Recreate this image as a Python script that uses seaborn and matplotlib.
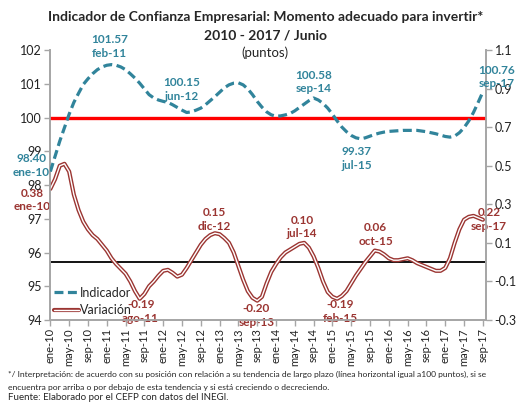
import numpy as np
import pandas as pd
import matplotlib
matplotlib.use("Agg")
import matplotlib.pyplot as plt
from matplotlib.lines import Line2D
import seaborn as sns

sns.set_theme(style="white")
plt.rcParams['font.family'] = ['Lato', 'DejaVu Sans']

# monthly data, ene-2010 .. sep-2017
meses = ["ene", "feb", "mar", "abr", "may", "jun", "jul", "ago", "sep", "oct", "nov", "dic"]
anios = list(range(10, 18))

indicador = [
    98.40, 98.85, 99.30, 99.70, 100.10, 100.45, 100.72, 100.98, 101.15, 101.30, 101.42, 101.50,
    101.55, 101.57, 101.55, 101.50, 101.42, 101.30, 101.17, 101.02, 100.85, 100.68, 100.58, 100.52,
    100.48, 100.45, 100.38, 100.30, 100.22, 100.15, 100.17, 100.22, 100.28, 100.38, 100.50, 100.62,
    100.75, 100.88, 100.97, 101.02, 101.03, 100.97, 100.85, 100.68, 100.48, 100.31, 100.17, 100.08,
    100.04, 100.05, 100.08, 100.12, 100.20, 100.30, 100.40, 100.50, 100.58, 100.52, 100.42, 100.28,
    100.10, 99.90, 99.72, 99.58, 99.47, 99.40, 99.37, 99.40, 99.45, 99.50, 99.54, 99.57,
    99.59, 99.60, 99.61, 99.62, 99.62, 99.62, 99.62, 99.60, 99.58, 99.55, 99.52, 99.48,
    99.44, 99.42, 99.45, 99.55, 99.70, 99.90, 100.15, 100.45, 100.76,
]

variacion = [
    0.38, 0.43, 0.50, 0.51, 0.47, 0.35, 0.27, 0.21, 0.17, 0.14, 0.12, 0.09,
    0.06, 0.02, -0.01, -0.035, -0.06, -0.10, -0.15, -0.19, -0.165, -0.125, -0.10, -0.07,
    -0.045, -0.04, -0.055, -0.075, -0.065, -0.03, 0.01, 0.05, 0.09, 0.12, 0.14, 0.15,
    0.145, 0.125, 0.10, 0.05, -0.02, -0.09, -0.15, -0.185, -0.20, -0.18, -0.11, -0.05,
    -0.01, 0.025, 0.05, 0.065, 0.08, 0.095, 0.10, 0.075, 0.03, -0.03, -0.10, -0.155,
    -0.18, -0.19, -0.175, -0.15, -0.11, -0.07, -0.035, 0.0, 0.03, 0.06, 0.055, 0.04,
    0.02, 0.01, 0.01, 0.015, 0.02, 0.01, -0.005, -0.015, -0.025, -0.035, -0.045, -0.045,
    -0.03, 0.02, 0.10, 0.17, 0.22, 0.235, 0.24, 0.23, 0.22,
]

fechas = [f"{m}-{a}" for a in anios for m in meses][:len(indicador)]
df = pd.DataFrame({"t": np.arange(len(fechas)), "fecha": fechas,
                   "indicador": indicador, "variacion": variacion})

# labelled points: (date, text offset in pixels)
etiq_ind = [("ene-10", (-19, 6)), ("feb-11", (-2, 18)), ("jun-12", (-5, 23)),
            ("sep-14", (0, 16)), ("jul-15", (-4, -20)), ("sep-17", (14, 15))]
etiq_var = [("ene-10", (-18, -11)), ("ago-11", (1, -13)), ("dic-12", (-1, 14)),
            ("sep-13", (-1, -15)), ("jul-14", (-2, 16)), ("feb-15", (3, -13)),
            ("oct-15", (1, 16)), ("sep-17", (6, 0))]

teal = "#31849B"
rojo = "#9B3532"

fig = plt.figure(figsize=(5.25, 4.04), dpi=100)
ax = fig.add_axes([0.095, 0.208, 0.831, 0.668])
ax2 = ax.twinx()

ax.axhline(100, color="#FF0000", lw=2.4, zorder=1)
sns.lineplot(data=df, x="t", y="indicador", ax=ax, color=teal, lw=2.3,
             dashes=False, zorder=3)
ax.lines[-1].set_dashes((2.8, 1.4))

ax2.axhline(0, color="black", lw=1.3, zorder=1)
sns.lineplot(data=df, x="t", y="variacion", ax=ax2, color=rojo, lw=3.0, zorder=3)
sns.lineplot(data=df, x="t", y="variacion", ax=ax2, color="white", lw=1.0, zorder=4)

ax.set_zorder(ax2.get_zorder() + 1)
ax.patch.set_visible(False)

ax.set_xlim(-0.1, 92.7)
ax.set_ylim(94, 102)
ax.set_yticks(range(94, 103))
ax2.set_ylim(-0.3, 1.1)
ax2.set_yticks(np.round(np.arange(-0.3, 1.11, 0.2), 1))
ax2.set_yticklabels([f"{v:.1f}" for v in np.round(np.arange(-0.3, 1.11, 0.2), 1)])
ax.set_xticks(df["t"][::4])
ax.set_xticklabels(df["fecha"][::4], rotation=90)
ax.set_xlabel("")
ax.set_ylabel("")
ax2.set_ylabel("")

for a in (ax, ax2):
    for s in a.spines.values():
        s.set_color("#A6A6A6")
    a.spines["top"].set_visible(False)
    a.tick_params(axis="both", which="major", length=4, width=1, color="#A6A6A6",
                  labelsize=9, pad=2, labelcolor="#222222")
ax.tick_params(axis="x", labelsize=8, length=4, pad=2, direction="out", bottom=True)
ax.tick_params(axis="y", left=True)
ax2.tick_params(axis="y", right=True)

idx = dict(zip(fechas, range(len(fechas))))
for f, off in etiq_ind:
    i = idx[f]
    ax.annotate(f"{indicador[i]:.2f}\n{f}", xy=(i, indicador[i]), xytext=off,
                textcoords="offset pixels", ha="center", va="center", color=teal,
                fontsize=8.5, fontweight="bold", linespacing=1.3, zorder=6)
for f, off in etiq_var:
    i = idx[f]
    ax2.annotate(f"{variacion[i]:.2f}\n{f}", xy=(i, variacion[i]), xytext=off,
                 textcoords="offset pixels", ha="center", va="center", color=rojo,
                 fontsize=8.5, fontweight="bold", linespacing=1.3, zorder=6)

h_ind = Line2D([], [], color=teal, lw=2.3, dashes=(2.8, 1.4))
h_var = (Line2D([], [], color=rojo, lw=3.0), Line2D([], [], color="white", lw=1.0))
ax.legend([h_ind, h_var], ["Indicador", "Variación"], loc="lower left",
          bbox_to_anchor=(0.0, 0.0), frameon=False, fontsize=9, handlelength=2.0,
          handletextpad=0.1, labelspacing=0.45, borderpad=0.2, borderaxespad=0.1)

fig.text(0.505, 0.958, "Indicador de Confianza Empresarial: Momento adecuado para invertir*",
         ha="center", va="center", fontsize=10, fontweight="bold")
fig.text(0.505, 0.913, "2010 - 2017 / Junio", ha="center", va="center",
         fontsize=10, fontweight="bold")
fig.text(0.505, 0.869, "(puntos)", ha="center", va="center", fontsize=9.5)

nota1 = ("*/ Interpretación: de acuerdo con su posición con relación a su tendencia de largo plazo "
         "(línea horizontal igual a100 puntos), si se")
nota2 = "encuentra por arriba o por debajo de esta tendencia y si está creciendo o decreciendo."
fig.text(0.015, 0.072, nota1, ha="left", va="center", fontsize=6.1)
fig.text(0.015, 0.042, nota2, ha="left", va="center", fontsize=6.1)
fig.text(0.015, 0.017, "Fuente: Elaborado por el CEFP con datos del INEGI.",
         ha="left", va="center", fontsize=7)

fig.savefig("out.png", dpi=100)
